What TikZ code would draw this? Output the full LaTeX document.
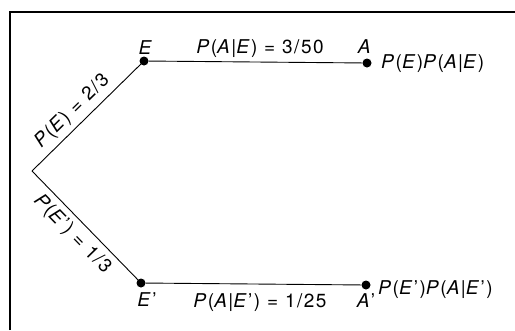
\documentclass[tikz,border=0pt]{standalone}
\usepackage{fontspec}
\setmainfont{TeX Gyre Heros}[LetterSpace=8]
\newcommand\iv[1]{\textit{#1}}
\begin{document}
\begin{tikzpicture}[x=1pt,y=-1pt,
  lbl/.style={font=\fontsize{19}{22}\selectfont, inner sep=0pt},
  dot/.style={circle, fill=black, inner sep=0pt, minimum size=9pt},
  branch/.style={line width=0.9pt},
  frame/.style={line width=1.1pt}]
\useasboundingbox (0,0) rectangle (515,330);
\fill[white] (0,0) rectangle (515,330);
% frame
\coordinate (fb) at (10,330);
\coordinate (fc) at (10,12);
\coordinate (fr) at (515,12);
\draw[frame] (fb) -- (fc) -- (fr);
% tree
\coordinate (root) at (32,171);
\node[dot] (E) at (144,61) {};
\node[dot] (A) at (367,63) {};
\node[dot] (Ep) at (141,283) {};
\node[dot] (Ap) at (366,285) {};
\draw[branch] (root) -- node[lbl, sloped, anchor=south, pos=0.45, yshift=5pt] (lPE) {\iv{P}(\iv{E}) = 2/3} (E.center);
\draw[branch] (root) -- node[lbl, sloped, anchor=north, pos=0.47, yshift=-6pt] (lPEp) {\iv{P}(\iv{E}’) = 1/3} (Ep.center);
\draw[branch] (E) -- (A);
\draw[branch] (Ep) -- (Ap);
% labels
\node[lbl] (tE) at (146,48) {\iv{E}};
\node[lbl] (tA) at (365,47) {\iv{A}};
\node[lbl] (tPAE) at (260,49) {\iv{P}(\iv{A}|\iv{E}) = 3/50};
\node[lbl, anchor=west] (tPEPAE) at (381,64) {\iv{P}(\iv{E})\iv{P}(\iv{A}|\iv{E})};
\node[lbl] (tEp) at (147,300) {\iv{E}’};
\node[lbl] (tAp) at (366,301) {\iv{A}’};
\node[lbl] (tPAEp) at (260,303) {\iv{P}(\iv{A}|\iv{E}’) = 1/25};
\node[lbl, anchor=west] (tPEpPAEp) at (378,290) {\iv{P}(\iv{E}’)\iv{P}(\iv{A}|\iv{E}’)};
\end{tikzpicture}
\end{document}
